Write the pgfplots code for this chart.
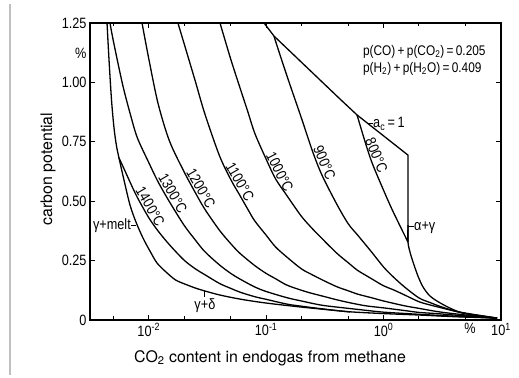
\documentclass[border=0pt]{standalone}
\usepackage{pgfplots}
\pgfplotsset{compat=1.18}
\usepackage{fontspec}
\setmainfont{Liberation Sans}[FakeStretch=0.85]
\newfontfamily\labelfont{TeX Gyre Heros}
\pgfplotsset{cv/.style={black, line width=1.3bp, smooth, no markers}}
\newcommand{\lf}{\fontsize{15}{17}\selectfont}
\newcommand{\lead}[1]{\rule[0.28em]{#1}{0.9bp}}
\begin{document}
\begin{tikzpicture}
\path[use as bounding box] (0,0) rectangle (519bp,378bp);
\draw[gray!50, line width=1.5bp] (10bp,3bp) -- (10bp,374bp);
\begin{axis}[
  at={(90bp,58bp)}, anchor=south west,
  scale only axis, width=411bp, height=297bp,
  xmode=log, log basis x=10,
  xmin=0.0031623, xmax=10, ymin=0, ymax=1.25,
  xtick={0.01,0.1,1,10},
  xticklabels={10\textsuperscript{-2},10\textsuperscript{-1},10\textsuperscript{0},10\textsuperscript{1}},
  minor xtick={0.005,0.02,0.05,0.2,0.5,2,5},
  ytick={0,0.25,0.5,0.75,1,1.25},
  yticklabels={0,0.25,0.50,0.75,1.00,1.25},
  tick label style={font=\lf, black},
  major tick length=5bp, minor tick length=3.5bp,
  every tick/.style={black, line width=1bp},
  axis line style={black, line width=1.5bp},
  clip=false,
]
% 1400 C
\addplot[cv] coordinates {(0.005585,0.682) (0.006,0.649) (0.007,0.576) (0.008,0.516) (0.01,0.431) (0.012,0.375) (0.015,0.317) (0.02,0.252) (0.025,0.215) (0.03,0.191) (0.04,0.154) (0.05,0.133) (0.06,0.117) (0.08,0.098) (0.1,0.087) (0.15,0.067) (0.2,0.058) (0.3,0.047) (0.5,0.035) (1,0.027) (2,0.021) (4,0.014) (9.25,0.008)};
% gamma + melt boundary
\addplot[cv] coordinates {(0.004416,1.25) (0.004592,1.094) (0.004822,0.926) (0.005064,0.808) (0.005318,0.732) (0.005585,0.682) (0.006158,0.589) (0.006928,0.484) (0.007793,0.412) (0.008939,0.345) (0.010254,0.290) (0.011765,0.240) (0.014035,0.202) (0.01674,0.170) (0.019205,0.156)};
% gamma + delta boundary
\addplot[cv] coordinates {(0.019205,0.156) (0.02477,0.135) (0.03015,0.122) (0.04046,0.105) (0.05989,0.088) (0.09779,0.072) (0.1942,0.055) (0.5177,0.034)};
% 1300 C
\addplot[cv] coordinates {(0.00468,1.25) (0.005,1.174) (0.006,0.990) (0.007,0.863) (0.008,0.767) (0.01,0.663) (0.012,0.582) (0.015,0.498) (0.02,0.399) (0.025,0.336) (0.03,0.288) (0.04,0.232) (0.05,0.196) (0.06,0.172) (0.08,0.139) (0.1,0.120) (0.15,0.094) (0.2,0.080) (0.3,0.062) (0.5,0.049) (0.7,0.041) (1,0.033) (2,0.024) (4,0.016) (9.25,0.008)};
% 1200 C
\addplot[cv] coordinates {(0.00877,1.25) (0.01,1.101) (0.012,0.912) (0.015,0.754) (0.02,0.624) (0.025,0.535) (0.03,0.467) (0.04,0.378) (0.05,0.321) (0.06,0.280) (0.08,0.229) (0.1,0.196) (0.12,0.174) (0.15,0.147) (0.2,0.125) (0.25,0.111) (0.3,0.101) (0.4,0.085) (0.5,0.074) (0.7,0.060) (1,0.051) (1.5,0.040) (2,0.032) (3,0.026) (5,0.017) (9.25,0.008)};
% 1100 C
\addplot[cv] coordinates {(0.01774,1.25) (0.02,1.164) (0.025,1.003) (0.03,0.869) (0.04,0.692) (0.05,0.591) (0.06,0.523) (0.07,0.465) (0.08,0.417) (0.1,0.357) (0.12,0.308) (0.15,0.265) (0.2,0.215) (0.25,0.189) (0.3,0.169) (0.4,0.140) (0.5,0.123) (0.6,0.109) (0.8,0.093) (1,0.080) (1.5,0.060) (2,0.049) (3,0.034) (5,0.021) (7,0.013) (9.25,0.008)};
% 1000 C
\addplot[cv] coordinates {(0.04046,1.25) (0.05,1.097) (0.06,0.976) (0.07,0.875) (0.08,0.786) (0.1,0.677) (0.12,0.595) (0.15,0.524) (0.2,0.436) (0.25,0.382) (0.3,0.342) (0.4,0.281) (0.5,0.241) (0.6,0.209) (0.7,0.189) (0.8,0.172) (1,0.144) (1.2,0.128) (1.5,0.106) (2,0.077) (2.5,0.063) (3,0.053) (4,0.038) (5,0.029) (7,0.017) (9.25,0.008)};
% 900 C
\addplot[cv] coordinates {(0.1167,1.195) (0.12,1.175) (0.15,1.029) (0.2,0.849) (0.25,0.706) (0.3,0.608) (0.4,0.487) (0.5,0.405) (0.6,0.358) (0.7,0.318) (0.8,0.283) (1,0.223) (1.2,0.183) (1.5,0.140) (2,0.093) (2.5,0.073) (3,0.058) (4,0.038) (5,0.027) (7,0.017) (9.25,0.008)};
% 800 C
\addplot[cv] coordinates {(0.5943,0.863) (0.7,0.746) (0.8,0.660) (1,0.546) (1.2,0.458) (1.614,0.328)};
% a_c = 1 line and vertical alpha+gamma part
\addplot[black, line width=1.3bp, sharp plot, no markers] coordinates {(0.09594,1.25) (0.1167,1.195) (0.4256,0.930) (0.5943,0.863) (1.614,0.694) (1.614,0.328)};
% alpha + gamma boundary
\addplot[cv] coordinates {(1.614,0.40) (1.614,0.328) (1.679,0.286) (1.782,0.244) (1.963,0.185) (2.168,0.139) (2.483,0.101) (3.027,0.072) (3.828,0.046) (4.742,0.029) (6.622,0.017) (9.25,0.008)};

% curve labels
\node[rotate=-60, anchor=south, font=\lf, inner sep=1.5bp] at (axis cs:0.00916,0.463) {1400°C};
\node[rotate=-60, anchor=south, font=\lf, inner sep=1.5bp] at (axis cs:0.01426,0.518) {1300°C};
\node[rotate=-60, anchor=south, font=\lf, inner sep=1.5bp] at (axis cs:0.02473,0.539) {1200°C};
\node[rotate=-60, anchor=south, font=\lf, inner sep=1.5bp] at (axis cs:0.05313,0.568) {1100°C};
\node[rotate=-63, anchor=south, font=\lf, inner sep=1.5bp] at (axis cs:0.1157,0.610) {1000°C};
\node[rotate=-67, anchor=south, font=\lf, inner sep=1.5bp] at (axis cs:0.2764,0.652) {900°C};
\node[rotate=-67, anchor=south, font=\lf, inner sep=1.5bp] at (axis cs:0.7664,0.682) {800°C};

% boundary labels
\node[anchor=east, inner sep=0, font=\lf] at (axis cs:0.0078,0.396) {γ+melt\lead{5bp}};
\draw[line width=0.9bp] (axis cs:0.0301,0.122) -- (axis cs:0.0301,0.097);
\node[anchor=north, inner sep=1bp, font=\lf] at (axis cs:0.0301,0.095) {γ+δ};
\node[anchor=west, inner sep=0, font=\lf] at (axis cs:0.737,0.825) {\lead{5bp}a\textsubscript{c}\,=\,1};
\node[anchor=west, inner sep=0, font=\lf] at (axis cs:1.614,0.387) {\lead{6bp}α+γ};

% unit marks
\node[anchor=north, inner sep=0.3333em, font=\lf] at (axis cs:5.445,0) {\%};
\node[anchor=east, inner sep=0.3333em, font=\lf] at (axis cs:0.0031623,1.124) {\%};

% axis titles
\node[anchor=center, font=\labelfont\fontsize{16}{19}\selectfont] at (rel axis cs:0.438,-0.128) {CO\textsubscript{2} content in endogas from methane};
\node[anchor=center, rotate=90, font=\labelfont\fontsize{16}{19}\selectfont] at (rel axis cs:-0.102,0.508) {carbon potential};

% conditions
\node[anchor=north west, align=left, inner sep=0, font=\fontsize{14}{17}\selectfont] at (rel axis cs:0.664,0.926) {p(CO)\,+\,p(CO\textsubscript{2})\,=\,0.205\\p(H\textsubscript{2})\,+\,p(H\textsubscript{2}O)\,=\,0.409};
\end{axis}
\end{tikzpicture}
\end{document}
